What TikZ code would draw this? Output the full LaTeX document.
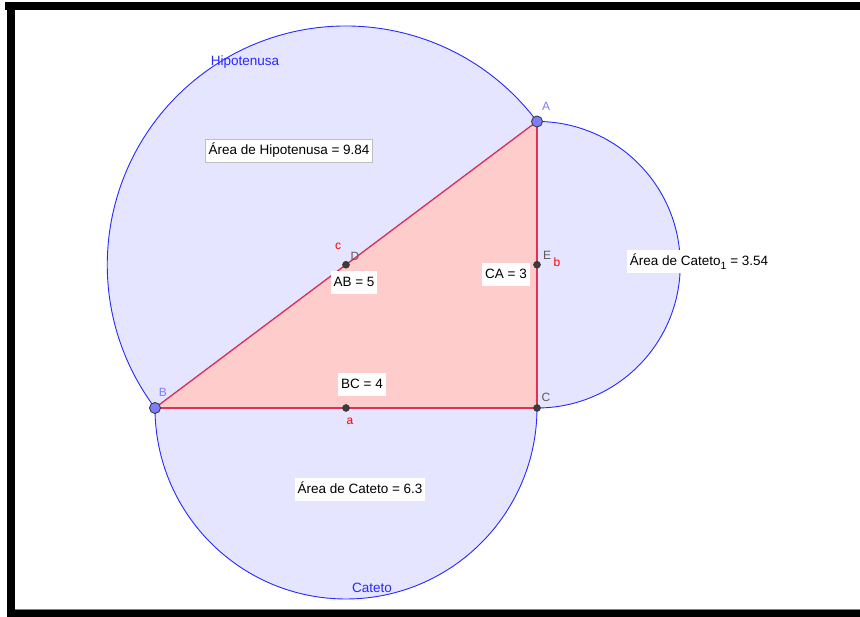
\documentclass[tikz,border=0pt]{standalone}
\usepackage{fontspec}
\setmainfont{Liberation Sans}
\definecolor{lav}{RGB}{229,229,255}
\definecolor{circblue}{RGB}{40,40,255}
\definecolor{tripink}{RGB}{255,204,204}
\definecolor{triedge}{RGB}{220,50,85}
\definecolor{ptblue}{RGB}{125,125,255}
\definecolor{ptgray}{RGB}{60,60,60}
\definecolor{lblgray}{RGB}{90,90,90}
\definecolor{boxgray}{RGB}{190,190,190}
\begin{document}
\begin{tikzpicture}[x=1pt,y=1pt,
  txt/.style={font=\fontsize{13.5}{15}\selectfont, inner sep=0pt},
  valbox/.style={txt, fill=white, inner xsep=3pt, inner ysep=5pt, text height=10pt, text depth=3pt},
  hipbox/.style={valbox, draw=boxgray, line width=1.6pt},
  bigpt/.style={circle, fill=ptblue, draw=ptgray, line width=0.9pt, minimum size=11pt, inner sep=0pt},
  smallpt/.style={circle, fill=ptgray, draw=black!80, line width=0.5pt, minimum size=7pt, inner sep=0pt},
  ptlbl/.style={font=\fontsize{12}{14}\selectfont, inner sep=0pt},
  seglbl/.style={font=\fontsize{12}{14}\selectfont, inner sep=0pt, text=red},
  arcline/.style={draw=circblue, line width=0.9pt, fill=lav},
]
\useasboundingbox (0,0) rectangle (860,617);
\fill[white] (0,0) rectangle (860,617);
% frame
\fill[black] (5,607) rectangle (860,615);
\fill[black] (7,0) rectangle (15,615);
\fill[black] (7,0) rectangle (860,7);
\fill[gray] (15,7) rectangle (860,8);

% geometry
\coordinate (B) at (155,209);
\coordinate (C) at (537,209);
\coordinate (A) at (537,495.5);
\coordinate (D) at (346,352.25);
\coordinate (E) at (537,352.25);
\coordinate (M) at (346,209);

% semicircles
\path[arcline] (A) arc[start angle=36.87, end angle=216.87, radius=238.75] -- cycle;
\path[fill=lav] (C) arc[start angle=0, end angle=-180, radius=191] -- cycle;
\draw[circblue, line width=0.9pt] (C) arc[start angle=0, end angle=-180, radius=191];
\path[fill=lav] (A) arc[start angle=90, end angle=-90, radius=143.25] -- cycle;
\draw[circblue, line width=0.9pt] (A) arc[start angle=90, end angle=-90, radius=143.25];

% triangle
\fill[tripink] (A) -- (B) -- (C) -- cycle;
\draw[triedge, line width=1.3pt] (A) -- (B);
\draw[triedge, line width=1.3pt] (B) -- (C);
\draw[triedge, line width=1.3pt] (C) -- (A);

% points
\node[smallpt] (pC) at (C) {};
\node[smallpt] (pD) at (D) {};
\node[smallpt] (pE) at (E) {};
\node[smallpt] (pM) at (M) {};
\node[bigpt] (pA) at (A) {};
\node[bigpt] (pB) at (B) {};

% point labels
\node[ptlbl, text=ptblue] (lA) at (546,511) {A};
\node[ptlbl, text=ptblue] (lB) at (163,225) {B};
\node[ptlbl, text=lblgray] (lC) at (546,220) {C};
\node[ptlbl, text=lblgray] (lD) at (355,361) {D};
\node[ptlbl, text=lblgray] (lE) at (547,362) {E};
\node[seglbl] (lc) at (338,371) {c};
\node[seglbl] (lb) at (557,355) {b};
\node[seglbl] (la) at (350,196) {a};

% value boxes
\node[hipbox] (hipval) at (289,466) {Área de Hipotenusa = 9.84};
\node[valbox] (abval) at (354,334) {AB = 5};
\node[valbox] (caval) at (506,342) {CA = 3};
\node[valbox] (c1val) at (699,355) {Área de Cateto\raisebox{-4pt}{\fontsize{10.5}{12}\selectfont 1} = 3.54};
\node[valbox] (bcval) at (362,232) {BC = 4};
\node[valbox] (catval) at (360,127) {Área de Cateto = 6.3};

% curve names
\node[txt, text=circblue] (hipname) at (245,555) {Hipotenusa};
\node[txt, text=circblue] (catname) at (372,29) {Cateto};
\end{tikzpicture}
\end{document}
